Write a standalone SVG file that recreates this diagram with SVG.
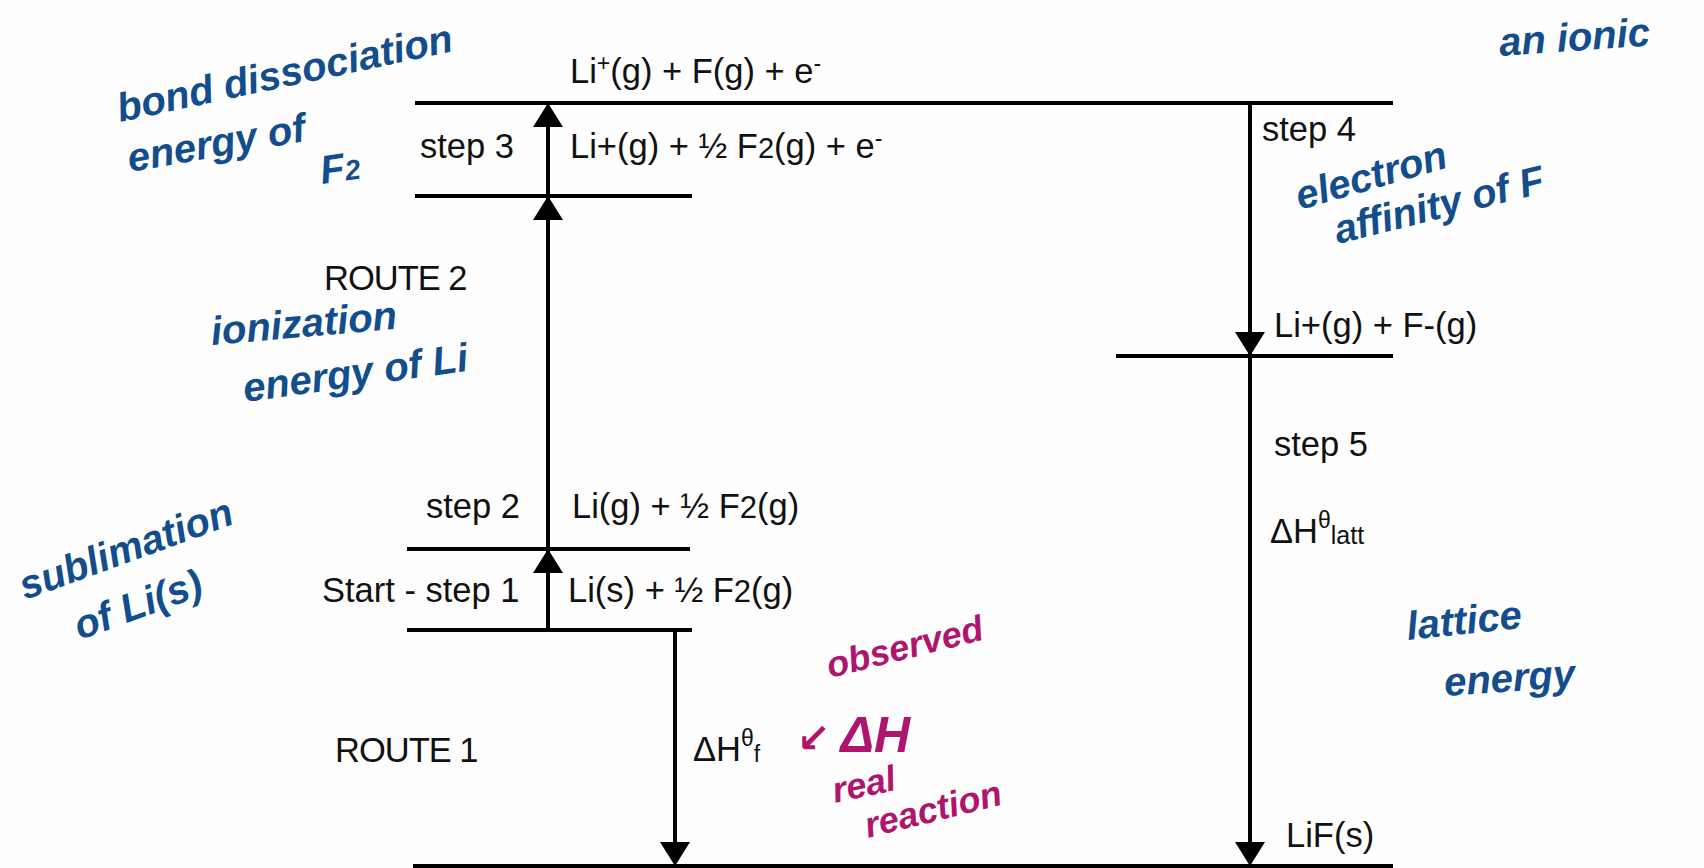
<svg xmlns="http://www.w3.org/2000/svg" width="1704" height="868" viewBox="0 0 1704 868">
<defs>
<style>
.lv{stroke:#000;stroke-width:4;fill:none}
.ar{stroke:#000;stroke-width:4;fill:none}
.hd{fill:#000}
.t{font-family:"Liberation Sans",Arial,sans-serif;font-size:34.5px;fill:#111}
.rt{letter-spacing:-1px}
.sm{font-size:23px}
.hb{font-family:"Liberation Sans","DejaVu Sans",sans-serif;font-size:40px;font-style:italic;font-weight:bold;fill:#124d8c}
.hm{font-family:"Liberation Sans","DejaVu Sans",sans-serif;font-size:36px;font-style:italic;font-weight:bold;fill:#b0156e}
</style>
</defs>
<rect width="1704" height="868" fill="#fefefe"/>

<g id="levels">
<g id="level-top"><line class="lv" x1="415" y1="103" x2="1393" y2="103"/>
<text class="t" x="570" y="83">Li<tspan class="sm" font-size="26" dy="-12">+</tspan><tspan dy="12">(g) + F(g) + e</tspan><tspan class="sm" dy="-12">-</tspan></text></g>
<g id="level-step3"><line class="lv" x1="415" y1="196" x2="692" y2="196"/>
<text class="t" x="420" y="158">step 3</text>
<text class="t" x="570" y="158">Li+(g) + ½ F<tspan font-size="29">2</tspan>(g) + e<tspan class="sm" dy="-12">-</tspan></text></g>
<g id="route2"><text class="t rt" x="324" y="290">ROUTE 2</text></g>
<g id="level-step2"><line class="lv" x1="407" y1="549" x2="690" y2="549"/>
<text class="t" x="426" y="518">step 2</text>
<text class="t" x="572" y="518">Li(g) + ½ F<tspan font-size="31">2</tspan>(g)</text></g>
<g id="level-start"><line class="lv" x1="407" y1="630" x2="692" y2="630"/>
<text class="t" x="322" y="602" font-size="35.5">Start - step 1</text>
<text class="t" x="568" y="602">Li(s) + ½ F<tspan font-size="31">2</tspan>(g)</text></g>
<g id="route1"><text class="t rt" x="335" y="762">ROUTE 1</text></g>
<g id="level-ions"><line class="lv" x1="1116" y1="356" x2="1393" y2="356"/>
<text class="t" x="1274" y="337">Li+(g) + F-(g)</text></g>
<g id="step4"><text class="t" x="1262" y="141">step 4</text></g>
<g id="step5"><text class="t" x="1274" y="456">step 5</text>
<text class="t" x="1270" y="543">ΔH<tspan class="sm" dy="-15">θ</tspan><tspan font-size="25" dy="16">latt</tspan></text></g>
<g id="level-bottom"><line class="lv" x1="413" y1="866" x2="1393" y2="866"/>
<text class="t" x="1286" y="847">LiF(s)</text></g>
<g id="dhf"><text class="t" x="693" y="761">ΔH<tspan class="sm" dy="-15">θ</tspan><tspan class="sm" dy="16">f</tspan></text></g>
</g>

<g id="connectors">
<line class="ar" x1="548" y1="630" x2="548" y2="115"/>
<polygon class="hd" points="548,103 533,127 563,127"/>
<polygon class="hd" points="548,196 533,220 563,220"/>
<polygon class="hd" points="548,549 533,573 563,573"/>
<line class="ar" x1="675" y1="630" x2="675" y2="850"/>
<polygon class="hd" points="675,866 660,842 690,842"/>
<line class="ar" x1="1250" y1="103" x2="1250" y2="850"/>
<polygon class="hd" points="1250,356 1235,332 1265,332"/>
<polygon class="hd" points="1250,866 1235,842 1265,842"/>
</g>

<g id="notes">
<text class="hb" transform="translate(120,122) rotate(-12)">bond dissociation</text>
<text class="hb" transform="translate(130,172) rotate(-10)">energy of</text>
<text class="hb" font-size="50" transform="translate(322,184) rotate(-8)">F<tspan font-size="28">2</tspan></text>
<text class="hb" font-size="38" transform="translate(212,345) rotate(-5)">ionization</text>
<text class="hb" transform="translate(245,402) rotate(-8)">energy of Li</text>
<text class="hb" transform="translate(25,600) rotate(-20)">sublimation</text>
<text class="hb" transform="translate(80,640) rotate(-20)">of Li(s)</text>
<text class="hm" font-size="34" transform="translate(830,678) rotate(-14)">observed</text>
<text class="hm" x="797" y="752"><tspan font-size="40">↙</tspan> <tspan font-size="50">ΔH</tspan></text>
<text class="hm" transform="translate(835,803) rotate(-12)">real</text>
<text class="hm" transform="translate(868,838) rotate(-14)">reaction</text>
<text class="hb" transform="translate(1300,210) rotate(-16)">electron</text>
<text class="hb" font-size="42" transform="translate(1338,244) rotate(-14)">affinity of F</text>
<text class="hb" font-size="42" transform="translate(1408,640) rotate(-6)">lattice</text>
<text class="hb" font-size="42" transform="translate(1445,696) rotate(-4)">energy</text>
<text class="hb" font-size="46" transform="translate(1500,56) rotate(-4)">an ionic</text>
</g>
</svg>
